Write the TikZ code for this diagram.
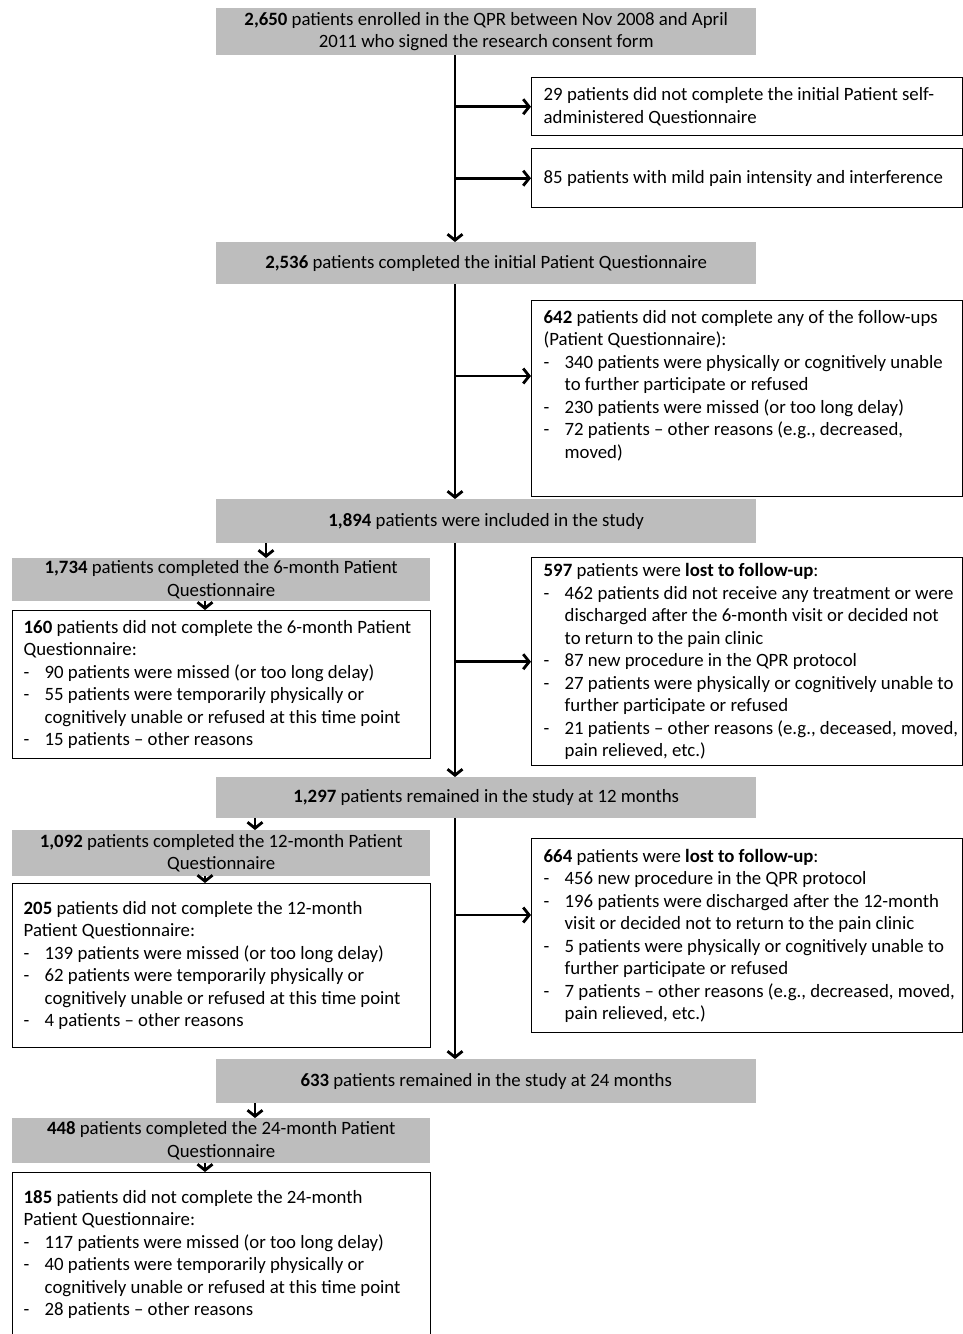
\documentclass[tikz,border=0pt]{standalone}
\usepackage{fontspec}
\setmainfont{Carlito}
\usepackage{xcolor}
\definecolor{boxgray}{RGB}{189,189,189}
\usetikzlibrary{arrows.meta}

\newcommand{\itemline}[1]{\mbox{\makebox[21pt][l]{-}#1}}
\newcommand{\contline}[1]{\mbox{\hspace*{21pt}#1}}

\tikzset{
  boxfont/.style={font=\fontsize{18.8pt}{22.5pt}\selectfont},
  mainbox/.style={boxfont, fill=boxgray, anchor=north west, minimum width=540pt, inner sep=0pt, align=center},
  graybox/.style={boxfont, fill=boxgray, anchor=north west, minimum width=418pt, inner sep=0pt, align=center},
  sidebox/.style={boxfont, draw, line width=1.4pt, fill=white, anchor=north west, text width=407pt, inner xsep=12pt, inner ysep=0pt, align=flush left},
  leftbox/.style={boxfont, draw, line width=1.4pt, fill=white, anchor=north west, text width=396pt, inner xsep=11pt, inner ysep=0pt, align=flush left},
  arr/.style={line width=2.8pt, -{Straight Barb[length=6pt,width=15pt]}}
}

\begin{document}
\begin{tikzpicture}[x=1pt, y=-1pt]
  \fill[white] (0,0) rectangle (963,1334);
  \useasboundingbox (0,0) rectangle (963,1334);

  % Main column
  \node[mainbox, minimum height=47pt] (enrol) at (216,8) {\textbf{2,650} patients enrolled in the QPR between Nov 2008 and April\\2011 who signed the research consent form};
  \node[mainbox, minimum height=42pt] (initial) at (216,242) {\textbf{2,536} patients completed the initial Patient Questionnaire};
  \node[mainbox, minimum height=44pt] (incl) at (216,499) {\textbf{1,894} patients were included in the study};
  \node[mainbox, minimum height=41pt] (twelve) at (216,777) {\textbf{1,297} patients remained in the study at 12 months};
  \node[mainbox, minimum height=44pt] (twentyfour) at (216,1059) {\textbf{633} patients remained in the study at 24 months};

  % Exclusions (right)
  \node[sidebox, minimum height=58pt] (noself) at (531,77) {29 patients did not complete the initial Patient self-\\administered Questionnaire};
  \node[sidebox, minimum height=59pt] (mild) at (531,148) {85 patients with mild pain intensity and interference};
  \node[sidebox, minimum height=196pt] (nofollow) at (531,300) {\textbf{642} patients did not complete any of the follow-ups\\
    (Patient Questionnaire):\\
    \itemline{340 patients were physically or cognitively unable}\\
    \contline{to further participate or refused}\\
    \itemline{230 patients were missed (or too long delay)}\\
    \itemline{72 patients -- other reasons (e.g., decreased,}\\
    \contline{moved)}\\ \strut};
  \node[sidebox, minimum height=208pt] (lostsix) at (531,557) {\textbf{597} patients were \textbf{lost to follow-up}:\\
    \itemline{462 patients did not receive any treatment or were}\\
    \contline{discharged after the 6-month visit or decided not}\\
    \contline{to return to the pain clinic}\\
    \itemline{87 new procedure in the QPR protocol}\\
    \itemline{27 patients were physically or cognitively unable to}\\
    \contline{further participate or refused}\\
    \itemline{21 patients -- other reasons (e.g., deceased, moved,}\\
    \contline{pain relieved, etc.)}};
  \node[sidebox, minimum height=194pt] (losttwelve) at (531,838) {\textbf{664} patients were \textbf{lost to follow-up}:\\
    \itemline{456 new procedure in the QPR protocol}\\
    \itemline{196 patients were discharged after the 12-month}\\
    \contline{visit or decided not to return to the pain clinic}\\
    \itemline{5 patients were physically or cognitively unable to}\\
    \contline{further participate or refused}\\
    \itemline{7 patients -- other reasons (e.g., decreased, moved,}\\
    \contline{pain relieved, etc.)}};

  % Questionnaires (left)
  \node[graybox, minimum height=43pt] (donesix) at (12,558) {\textbf{1,734} patients completed the 6-month Patient\\Questionnaire};
  \node[leftbox, minimum height=148pt] (notsix) at (12,610) {\textbf{160} patients did not complete the 6-month Patient\\
    Questionnaire:\\
    \itemline{90 patients were missed (or too long delay)}\\
    \itemline{55 patients were temporarily physically or}\\
    \contline{cognitively unable or refused at this time point}\\
    \itemline{15 patients -- other reasons}};
  \node[graybox, minimum height=46pt] (donetwelve) at (12,830) {\textbf{1,092} patients completed the 12-month Patient\\Questionnaire};
  \node[leftbox, minimum height=164pt] (nottwelve) at (12,883) {\textbf{205} patients did not complete the 12-month\\
    Patient Questionnaire:\\
    \itemline{139 patients were missed (or too long delay)}\\
    \itemline{62 patients were temporarily physically or}\\
    \contline{cognitively unable or refused at this time point}\\
    \itemline{4 patients -- other reasons}};
  \node[graybox, minimum height=45pt] (donetwentyfour) at (12,1118) {\textbf{448} patients completed the 24-month Patient\\Questionnaire};
  \node[leftbox, minimum height=164pt] (nottwentyfour) at (12,1172) {\textbf{185} patients did not complete the 24-month\\
    Patient Questionnaire:\\
    \itemline{117 patients were missed (or too long delay)}\\
    \itemline{40 patients were temporarily physically or}\\
    \contline{cognitively unable or refused at this time point}\\
    \itemline{28 patients -- other reasons}};

  % Lanes
  \coordinate (spine) at (455,0);
  \coordinate (lanea) at (266,0);
  \coordinate (laneb) at (255,0);
  \coordinate (lanec) at (205,0);
  \coordinate (infollow) at (531,376);
  \coordinate (intwelve) at (531,915);

  % Spine arrows
  \draw[arr] (enrol.south -| spine) -- (initial.north -| spine);
  \draw[arr] (initial.south -| spine) -- (incl.north -| spine);
  \draw[arr] (incl.south -| spine) -- (twelve.north -| spine);
  \draw[arr] (twelve.south -| spine) -- (twentyfour.north -| spine);

  % Side arrows
  \draw[arr] (spine |- noself.west) -- (noself.west);
  \draw[arr] (spine |- mild.west) -- (mild.west);
  \draw[arr] (spine |- infollow) -- (infollow);
  \draw[arr] (spine |- lostsix.west) -- (lostsix.west);
  \draw[arr] (spine |- intwelve) -- (intwelve);

  % Left arrows
  \draw[arr] (incl.south -| lanea) -- (donesix.north -| lanea);
  \draw[arr] (donesix.south -| lanec) -- (notsix.north -| lanec);
  \draw[arr] (twelve.south -| laneb) -- (donetwelve.north -| laneb);
  \draw[arr] (donetwelve.south -| lanec) -- (nottwelve.north -| lanec);
  \draw[arr] (twentyfour.south -| laneb) -- (donetwentyfour.north -| laneb);
  \draw[arr] (donetwentyfour.south -| lanec) -- (nottwentyfour.north -| lanec);
\end{tikzpicture}
\end{document}
